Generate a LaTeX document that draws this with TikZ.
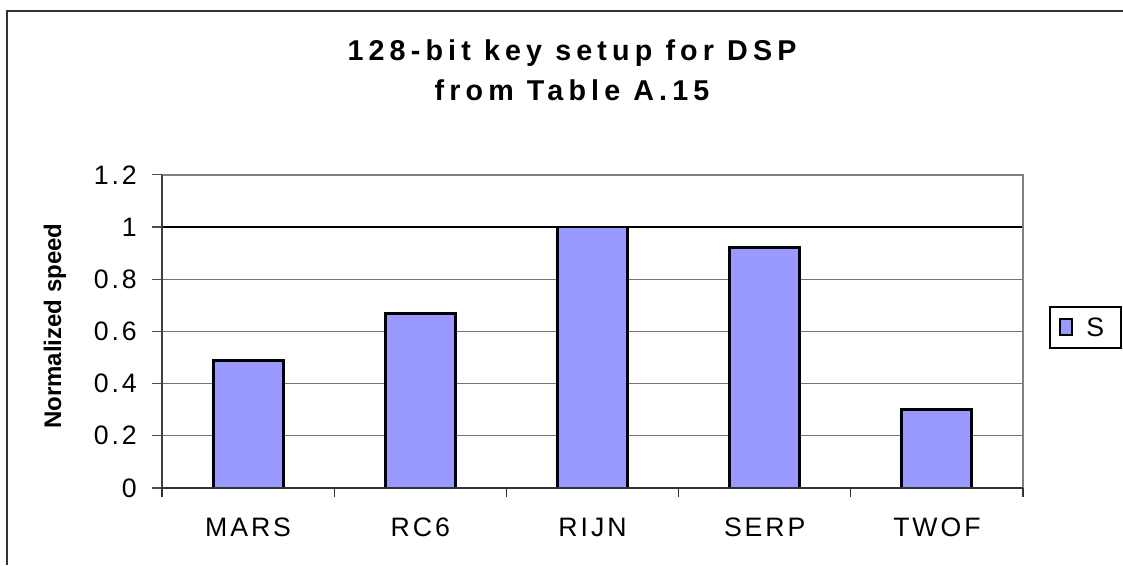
\documentclass[tikz,border=0pt]{standalone}
\usepackage{fontspec}
\setmainfont{Liberation Sans}
\newfontfamily\chartfont[LetterSpace=11]{Liberation Sans}
\newfontfamily\headfont[LetterSpace=18]{Liberation Sans}
\definecolor{barfill}{HTML}{9999FF}

\begin{document}
\begin{tikzpicture}[x=0.75pt,y=-0.75pt,
    bar/.style={draw=black, line width=2.2pt, fill=barfill},
    gridline/.style={draw=black!55, line width=1pt},
    lab/.style={font=\chartfont\fontsize{20}{22}\selectfont, inner sep=0pt}]
  \useasboundingbox (0,0) rectangle (1123,565);
  % chart frame, cut off at the right and at the bottom
  \draw[black!80, line width=1.2pt] (7,565) -- (7,11) -- (1123,11);
  \node[font=\headfont\bfseries\fontsize{21.5}{30}\selectfont, align=center, inner sep=0pt] (title) at (572,70)
    {128-bit key setup for DSP\\from Table A.15};

  % grid and value axis
  \foreach \k/\t in {0/0,1/0.2,2/0.4,3/0.6,4/0.8,5/1,6/1.2} {
    \pgfmathsetmacro{\yy}{488-\k*52.2}
    \draw[gridline] (162,\yy) -- (1023,\yy);
    \draw[black!70, line width=0.8pt] (152,\yy) -- (162,\yy);
    \node[lab, anchor=east] (tick\k) at (137,\yy) {\t};
  }
  \draw[gridline, black] (162,227) -- (1023,227);
  \draw[black!50, line width=2pt] (162,175) -- (1023,175) -- (1023,488);
  \draw[black!75, line width=1.5pt] (162,175) -- (162,488);
  \node[rotate=90, font=\bfseries\fontsize{18}{21}\selectfont] (ylabel) at (55,326) {Normalized speed};

  % bars
  \foreach \name/\val [count=\i] in {MARS/0.49,RC6/0.67,RIJN/1,SERP/0.92,TWOF/0.3} {
    \pgfmathsetmacro{\cx}{162+(\i-0.5)*172.2}
    \pgfmathsetmacro{\ty}{488-\val*261}
    \draw[bar] ({\cx-35},488) rectangle ({\cx+35},\ty);
    \node[lab] (\name) at (\cx,527) {\name};
  }

  % category axis
  \draw[black!80, line width=1.2pt] (162,488) -- (1023,488);
  \foreach \i in {0,...,5}
    \draw[black!80, line width=0.8pt] ({162+\i*172.2},488) -- ({162+\i*172.2},497);

  % legend
  \node[draw, line width=0.8pt, minimum width=53.25pt, minimum height=30.75pt, inner sep=0pt] (legend) at (1085.5,327.5) {};
  \draw[bar, line width=1.8pt] (1060,319) rectangle (1072,335);
  \node[lab, anchor=west] (key) at (1086,327) {S};
\end{tikzpicture}
\end{document}
